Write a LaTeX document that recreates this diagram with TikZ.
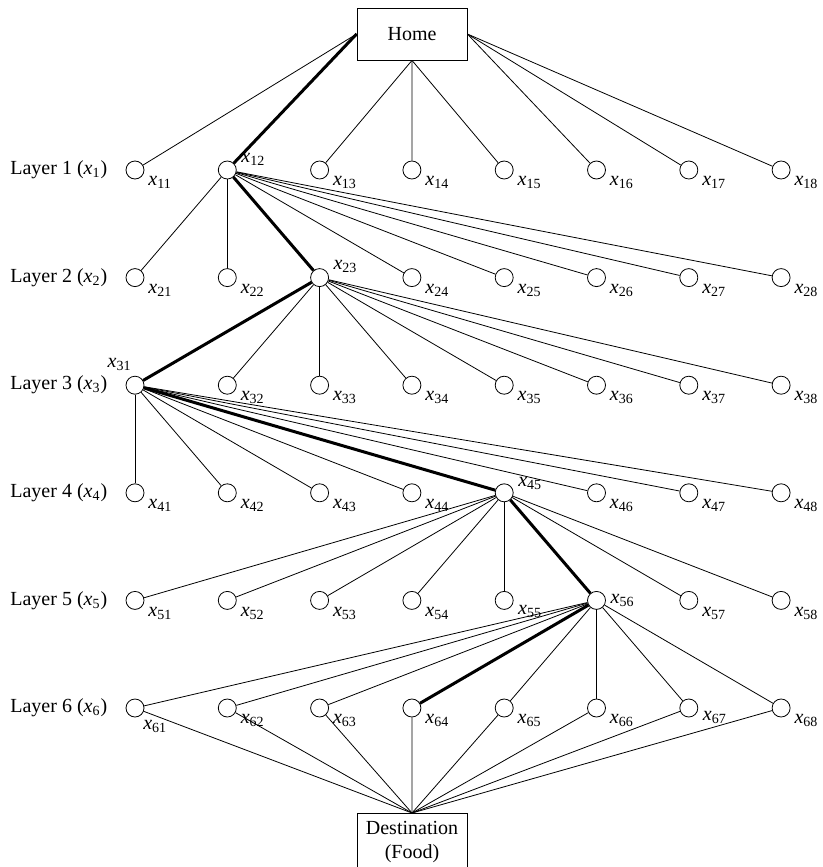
\documentclass[tikz,border=0pt]{standalone}
\usepackage{fontspec}
\setmainfont{Liberation Serif}
\usetikzlibrary{positioning}
\newcommand{\xv}[1]{\textit{x}\textsubscript{#1}}

\begin{document}
\begin{tikzpicture}[
    x=0.5pt, y=-0.5pt,
    state/.style={circle, draw, thin, minimum size=9pt, inner sep=0pt, fill=white},
    endbox/.style={rectangle, draw, thin, minimum width=55pt, align=center},
    tag/.style={label distance=1.2pt, inner sep=1pt},
    link/.style={thin},
    route/.style={line width=1.5pt}
]
    \useasboundingbox (0,0) rectangle (823,867);

    \node[endbox, minimum height=26pt] (home) at (412,34) {Home};
    \node[endbox, minimum height=29pt, inner sep=1pt, anchor=north] (dest) at (412,813) {Destination\\(Food)};

    % layer / column / label angle
    \foreach \j/\i/\a in {
        1/1/-20, 1/2/8,   1/3/-20, 1/4/-20, 1/5/-20, 1/6/-20, 1/7/-20, 1/8/-20,
        2/1/-20, 2/2/-20, 2/3/12,  2/4/-20, 2/5/-20, 2/6/-20, 2/7/-20, 2/8/-20,
        3/1/95,  3/2/-20, 3/3/-20, 3/4/-20, 3/5/-20, 3/6/-20, 3/7/-20, 3/8/-20,
        4/1/-20, 4/2/-20, 4/3/-20, 4/4/-20, 4/5/5,   4/6/-20, 4/7/-20, 4/8/-20,
        5/1/-20, 5/2/-20, 5/3/-20, 5/4/-20, 5/5/-10, 5/6/0,   5/7/-20, 5/8/-20,
        6/1/-60, 6/2/-20, 6/3/-20, 6/4/-20, 6/5/-20, 6/6/-20, 6/7/-5,  6/8/-20}
        \node[state, label={[tag]\a:\xv{\j\i}}] (x\j\i) at ({135+92.3*(\i-1)}, {170+107.6*(\j-1)}) {};

    \foreach \j in {1,...,6}
        \node[left=9pt of x\j1, inner sep=0pt] (layer\j) {Layer \j\ (\xv{\j})};

    % edges
    \foreach \i in {1,2} \draw[link] (home.west) -- (x1\i);
    \foreach \i in {3,4,5} \draw[link] (home.south) -- (x1\i);
    \foreach \i in {6,7,8} \draw[link] (home.east) -- (x1\i);
    \foreach \i in {1,...,8} {
        \draw[link] (x12) -- (x2\i);
        \draw[link] (x23) -- (x3\i);
        \draw[link] (x31) -- (x4\i);
        \draw[link] (x45) -- (x5\i);
        \draw[link] (x56) -- (x6\i);
        \draw[link] (x6\i) -- (dest.north);
    }

    % chosen path
    \draw[route] (home.west) -- (x12) -- (x23) -- (x31) -- (x45) -- (x56) -- (x64);
\end{tikzpicture}
\end{document}
